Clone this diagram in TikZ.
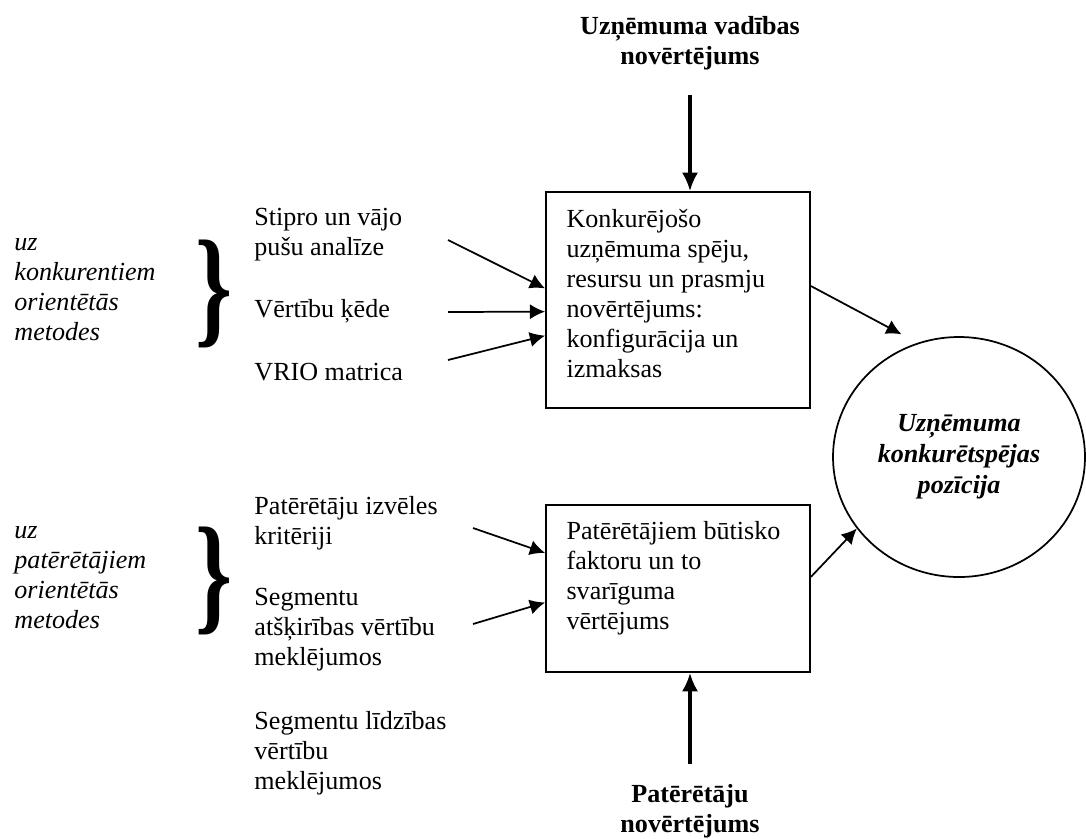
\documentclass[tikz,border=0pt]{standalone}
\usepackage{fontspec}
\setmainfont{Liberation Serif}
\usetikzlibrary{arrows.meta}
\usetikzlibrary{positioning}
\usetikzlibrary{shapes.geometric}
\tikzset{box/.style = {draw, line width=0.9pt, minimum width=121.4pt, inner sep=0pt},
         txt/.style = {align=left, inner sep=0pt, font=\fontsize{12}{13.8}\selectfont},
         head/.style = {align=center, inner sep=0pt, font=\fontsize{12}{13.8}\selectfont\bfseries},
         grp/.style = {align=left, inner sep=0pt, anchor=west, font=\fontsize{12}{13.8}\selectfont\itshape},
         brace/.style = {inner sep=0pt, font=\fontsize{60}{60}\selectfont\bfseries},
         arr/.style = {-{Latex[length=7pt,width=7pt]}, line width=0.8pt},
         bigarr/.style = {-{Latex[length=8.5pt,width=7.5pt]}, line width=1.4pt}}

\begin{document}
\begin{tikzpicture}[x=0.46pt, y=-0.46pt]
    \useasboundingbox (0, 0) rectangle (1086, 838);

    \node [box, minimum height=99.4pt] (konk) at (678, 300) {};
    \node [txt, below right=8.3pt and 9.7pt of konk.north west] (konkt) {Konkurējošo\\uzņēmuma spēju,\\resursu un prasmju\\novērtējums:\\konfigurācija un\\izmaksas};

    \node [box, minimum height=76.8pt] (pat) at (678, 588.5) {};
    \node [txt, below right=7.8pt and 9.7pt of pat.north west] (patt) {Patērētājiem būtisko\\faktoru un to\\svarīguma\\vērtējums};

    \node [ellipse, draw, line width=0.8pt, minimum width=115.9pt, minimum height=110.4pt, inner sep=0pt,
           align=center, font=\fontsize{12}{14.2}\selectfont\bfseries\itshape] (poz) at (959, 457)
          {Uzņēmuma\\konkurētspējas\\pozīcija};

    \node [head] (vad) at (690, 43) {Uzņēmuma vadības\\novērtējums};
    \node [head] (pnov) at (690, 811) {Patērētāju\\novērtējums};

    \node [grp] (kmet) at (14, 290) {uz\\konkurentiem\\orientētās\\metodes};
    \node [grp] (pmet) at (14, 578) {uz\\patērētājiem\\orientētās\\metodes};
    \node [brace] (kbr) at (214, 294) {\scalebox{0.72}[1]{\}}};
    \node [brace] (pbr) at (214, 581) {\scalebox{0.72}[1]{\}}};

    \node [txt, anchor=west] (swot) at (254, 235) {Stipro un vājo\\pušu analīze};
    \node [txt, anchor=west] (vkede) at (254, 311) {Vērtību ķēde};
    \node [txt, anchor=west] (vrio) at (254, 372) {VRIO matrica};
    \node [txt, anchor=west] (krit) at (254, 523) {Patērētāju izvēles\\kritēriji};
    \node [txt, anchor=west] (atsk) at (254, 630) {Segmentu\\atšķirības vērtību\\meklējumos};
    \node [txt, anchor=west] (lidz) at (254, 753) {Segmentu līdzības\\vērtību\\meklējumos};

    \coordinate (s1) at (448, 240);
    \coordinate (s2) at (448, 312);
    \coordinate (s3) at (448, 360);
    \coordinate (s4) at (473, 528);
    \coordinate (s5) at (473, 624);

    \foreach \s/\a in {s1/175, s2/185, s3/195} {
      \draw [arr] (\s) -- (konk.\a);
    }
    \foreach \s/\a in {s4/165, s5/186} {
      \draw [arr] (\s) -- (pat.\a);
    }

    \draw [arr, shorten >=8.3pt] (konk.6) -- (poz.110);
    \draw [arr] (pat.5) -- (poz.215);

    \draw [bigarr, shorten <=11.5pt] (vad.south) -- (vad.south |- konk.north);
    \draw [bigarr, shorten <=9.2pt] (pnov.north) -- (pnov.north |- pat.south);
  \end{tikzpicture}
\end{document}
